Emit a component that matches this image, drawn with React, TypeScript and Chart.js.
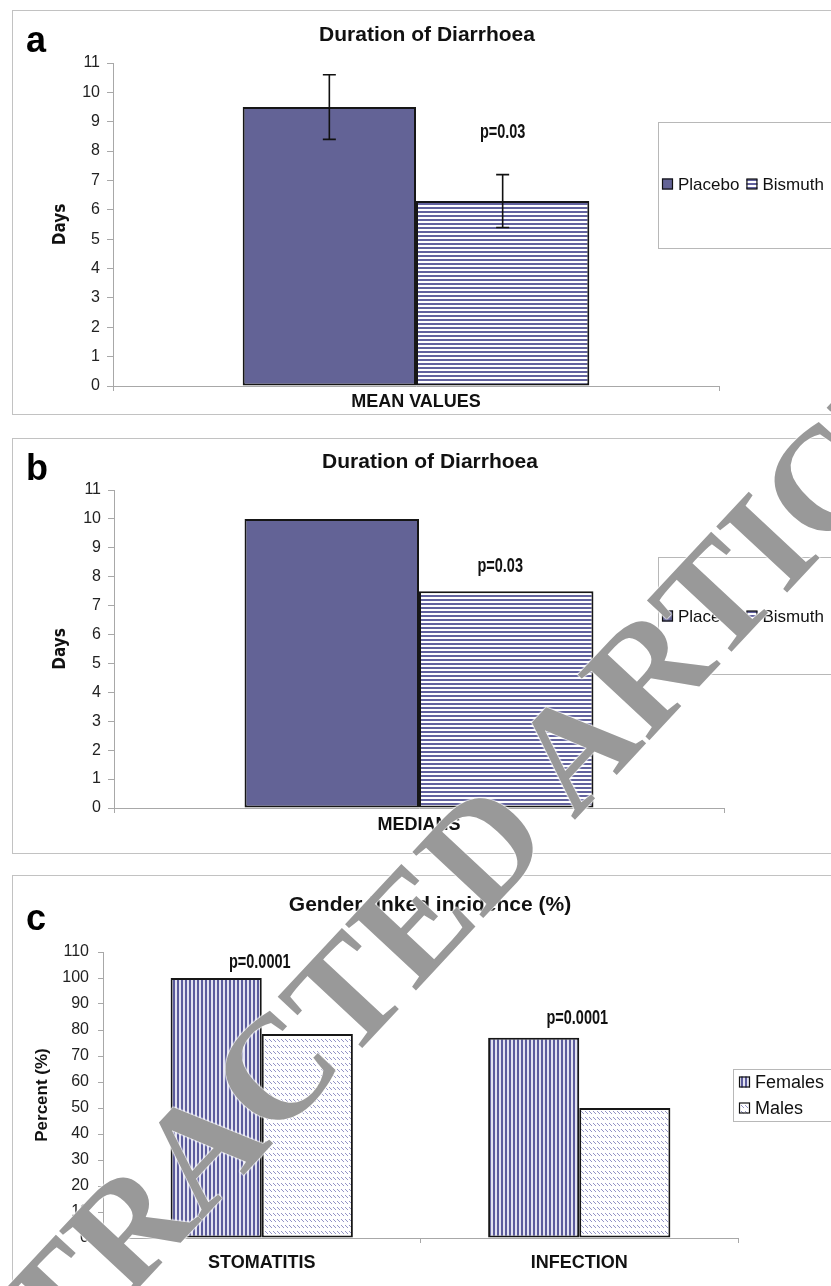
import React, { useEffect, useRef } from 'react';
import { Chart, registerables } from 'chart.js';

Chart.register(...registerables);

const SANS = '"Liberation Sans", Arial, Helvetica, sans-serif';
const NARROW = '"Liberation Sans Narrow", "Arial Narrow", "DejaVu Sans Condensed", sans-serif';
const AXIS = '#a8a8a8';

// ---------------- data ----------------
const treatmentSeries = ['Placebo', 'Bismuth'];

const meanCategories = ['MEAN VALUES'];
const meanPlacebo = [9.5];
const meanBismuth = [6.3];
const meanPlaceboErrLow = [8.4];
const meanPlaceboErrHigh = [10.6];
const meanBismuthErrLow = [5.4];
const meanBismuthErrHigh = [7.2];
const meanPText = ['p=0.03'];
const meanPAt = [8.64];

const medianCategories = ['MEDIANS'];
const medianPlacebo = [10];
const medianBismuth = [7.5];
const medianPText = ['p=0.03'];
const medianPAt = [8.35];

const daysAxisMax = 11;
const daysStep = 1;

const genderSeries = ['Females', 'Males'];
const genderCategories = ['STOMATITIS', 'INFECTION'];
const femalesPercent = [100, 77];
const malesPercent = [78.5, 50];
const genderPText = ['p=0.0001', 'p=0.0001'];
const genderPAt = [106, 84.6];

const percentAxisMax = 110;
const percentStep = 10;

const durationTitle = 'Duration of Diarrhoea';
const genderTitle = 'Gender-linked incidence (%)';
const watermarkText = 'RETRACTED ARTICLE';

// ---------------- patterns ----------------
function makePattern(w: number, h: number, draw: (g: CanvasRenderingContext2D) => void) {
  const c = document.createElement('canvas');
  c.width = w;
  c.height = h;
  const g = c.getContext('2d')!;
  draw(g);
  return g.createPattern(c, 'repeat')!;
}
const hStripe = () =>
  makePattern(4, 4, (g) => {
    g.fillStyle = '#ffffff';
    g.fillRect(0, 0, 4, 4);
    g.fillStyle = '#62629e';
    g.fillRect(0, 0, 4, 2);
  });
const vStripe = () =>
  makePattern(4, 4, (g) => {
    g.fillStyle = '#e2e2f0';
    g.fillRect(0, 0, 4, 4);
    g.fillStyle = '#5c5c9c';
    g.fillRect(0, 0, 2, 4);
  });
const diagDash = () =>
  makePattern(4, 6, (g) => {
    g.fillStyle = '#ffffff';
    g.fillRect(0, 0, 4, 6);
    g.fillStyle = '#9494c6';
    g.fillRect(0, 1, 1, 1);
    g.fillRect(1, 2, 1, 1);
    g.fillRect(2, 3, 1, 1);
  });

// ---------------- decoration plugin ----------------
type Decor = {
  title: string;
  titleX: number;
  titleY: number;
  pTexts: string[];
  pValues: number[];
  pX: (chart: any, i: number) => number;
  legendBox: [number, number, number, number];
  legendMode: 'row' | 'column';
  legendX: number;
  legendY: number;
  legendRowGap: number;
  legendFont: number;
  errors?: { dataset: number; low: number[]; high: number[] }[];
};

function decorPlugin(d: Decor) {
  return {
    id: 'decor',
    afterDatasetsDraw(chart: any) {
      const ctx: CanvasRenderingContext2D = chart.ctx;
      const y = chart.scales.y;
      (d.errors || []).forEach((e) => {
        const meta = chart.getDatasetMeta(e.dataset);
        meta.data.forEach((bar: any, i: number) => {
          const x = bar.x;
          const y1 = y.getPixelForValue(e.low[i]);
          const y2 = y.getPixelForValue(e.high[i]);
          ctx.save();
          ctx.strokeStyle = '#111';
          ctx.lineWidth = 1.6;
          ctx.beginPath();
          ctx.moveTo(x, y1);
          ctx.lineTo(x, y2);
          ctx.moveTo(x - 6.5, y1);
          ctx.lineTo(x + 6.5, y1);
          ctx.moveTo(x - 6.5, y2);
          ctx.lineTo(x + 6.5, y2);
          ctx.stroke();
          ctx.restore();
        });
      });
    },
    afterDraw(chart: any) {
      const ctx: CanvasRenderingContext2D = chart.ctx;
      const y = chart.scales.y;
      ctx.save();
      // title
      ctx.fillStyle = '#111';
      ctx.font = `bold 21px ${SANS}`;
      ctx.textAlign = 'center';
      ctx.textBaseline = 'middle';
      ctx.fillText(d.title, d.titleX, d.titleY);
      // p values
      d.pTexts.forEach((t, i) => {
        const px = d.pX(chart, i);
        const py = y.getPixelForValue(d.pValues[i]);
        ctx.save();
        ctx.translate(px, py);
        ctx.scale(0.69, 1);
        ctx.font = `bold 21px ${SANS}`;
        ctx.fillStyle = '#111';
        ctx.textAlign = 'center';
        ctx.textBaseline = 'middle';
        ctx.fillText(t, 0, 0);
        ctx.restore();
      });
      // legend box
      const [l, t, r, b] = d.legendBox;
      ctx.strokeStyle = '#b8b8b8';
      ctx.lineWidth = 1;
      ctx.strokeRect(l + 0.5, t + 0.5, r - l, b - t);
      // legend items
      ctx.font = `${d.legendFont}px ${SANS}`;
      ctx.textAlign = 'left';
      ctx.textBaseline = 'middle';
      const sq = 11;
      let cx = d.legendX;
      let cy = d.legendY;
      chart.data.datasets.forEach((ds: any) => {
        ctx.fillStyle = ds.backgroundColor;
        ctx.fillRect(cx, cy - sq / 2, sq, sq);
        ctx.strokeStyle = '#111';
        ctx.lineWidth = 1.2;
        ctx.strokeRect(cx + 0.5, cy - sq / 2 + 0.5, sq - 1, sq - 1);
        ctx.fillStyle = '#111';
        ctx.fillText(ds.label, cx + sq + 5, cy + 1);
        if (d.legendMode === 'row') {
          cx += sq + 5 + ctx.measureText(ds.label).width + 7;
        } else {
          cy += d.legendRowGap;
        }
      });
      ctx.restore();
    },
  };
}

// ---------------- configs ----------------
function xScale(fitHeight: number, padding: number) {
  return {
    type: 'category',
    grid: { display: true, drawOnChartArea: false, drawTicks: true, tickLength: 5, color: AXIS, offset: true },
    border: { display: true, color: AXIS, width: 1 },
    ticks: { font: { family: SANS, size: 18, weight: 'bold' }, color: '#111', padding },
    afterFit: (s: any) => {
      s.height = fitHeight;
    },
  };
}

function yScale(max: number, step: number, fitWidth: number, tickLen: number, pad: number, title: string, titleFont: any, titlePad: number) {
  return {
    min: 0,
    max,
    ticks: { stepSize: step, font: { family: SANS, size: 16 }, color: '#222', padding: pad },
    grid: { display: true, drawOnChartArea: false, drawTicks: true, tickLength: tickLen, color: AXIS },
    border: { display: true, color: AXIS, width: 1 },
    title: { display: true, text: title, font: titleFont, color: '#111', padding: { top: titlePad, bottom: 0 } },
    afterFit: (s: any) => {
      s.width = fitWidth;
    },
  };
}

function durationConfig(kind: 'mean' | 'median'): any {
  const isMean = kind === 'mean';
  const placebo = isMean ? meanPlacebo : medianPlacebo;
  const bismuth = isMean ? meanBismuth : medianBismuth;
  const bar = { borderColor: '#161616', borderWidth: 2, borderSkipped: false, categoryPercentage: 0.572, barPercentage: 1 };
  return {
    type: 'bar',
    data: {
      labels: isMean ? meanCategories : medianCategories,
      datasets: [
        { label: treatmentSeries[0], data: placebo, backgroundColor: '#636396', ...bar },
        { label: treatmentSeries[1], data: bismuth, backgroundColor: hStripe(), ...bar },
      ],
    },
    options: {
      responsive: false,
      animation: false,
      events: [],
      layout: { padding: isMean ? { top: 52, right: 123, left: 0, bottom: 0 } : { top: 51, right: 118, left: 0, bottom: 0 } },
      plugins: { legend: { display: false }, tooltip: { enabled: false }, title: { display: false } },
      scales: {
        x: xScale(isMean ? 28 : 45, isMean ? 0 : 1),
        y: yScale(daysAxisMax, daysStep, isMean ? 100 : 101, 6, 7, 'Days', { family: NARROW, size: 17, weight: 'bold' }, 37),
      },
    },
    plugins: [
      decorPlugin({
        title: durationTitle,
        titleX: isMean ? 414 : 417,
        titleY: isMean ? 24 : 23,
        pTexts: isMean ? meanPText : medianPText,
        pValues: isMean ? meanPAt : medianPAt,
        pX: (chart, i) => chart.getDatasetMeta(1).data[i].x - (isMean ? 0 : 6),
        legendBox: isMean ? [645, 111, 840, 237] : [645, 118, 840, 235],
        legendMode: 'row',
        legendX: 649,
        legendY: isMean ? 173 : 177,
        legendRowGap: 0,
        legendFont: 17,
        errors: isMean
          ? [
              { dataset: 0, low: meanPlaceboErrLow, high: meanPlaceboErrHigh },
              { dataset: 1, low: meanBismuthErrLow, high: meanBismuthErrHigh },
            ]
          : [],
      }),
    ],
  };
}

function genderConfig(): any {
  const bar = { borderColor: '#161616', borderWidth: 2, borderSkipped: false, categoryPercentage: 0.574, barPercentage: 1 };
  return {
    type: 'bar',
    data: {
      labels: genderCategories,
      datasets: [
        { label: genderSeries[0], data: femalesPercent, backgroundColor: vStripe(), ...bar },
        { label: genderSeries[1], data: malesPercent, backgroundColor: diagDash(), ...bar },
      ],
    },
    options: {
      responsive: false,
      animation: false,
      events: [],
      layout: { padding: { top: 76, right: 104, left: 0, bottom: 0 } },
      plugins: { legend: { display: false }, tooltip: { enabled: false }, title: { display: false } },
      scales: {
        x: xScale(58, 9),
        y: yScale(percentAxisMax, percentStep, 90, 5, 9, 'Percent (%)', { family: SANS, size: 17, weight: 'bold' }, 19),
      },
    },
    plugins: [
      decorPlugin({
        title: genderTitle,
        titleX: 417,
        titleY: 29,
        pTexts: genderPText,
        pValues: genderPAt,
        pX: (chart, i) => (chart.getDatasetMeta(0).data[i].x + chart.getDatasetMeta(1).data[i].x) / 2 - 2,
        legendBox: [720, 193, 840, 245],
        legendMode: 'column',
        legendX: 726,
        legendY: 206,
        legendRowGap: 26,
        legendFont: 18,
      }),
    ],
  };
}

// ---------------- components ----------------
function ChartCanvas({ width, height, make }: { width: number; height: number; make: () => any }) {
  const ref = useRef<HTMLCanvasElement>(null);
  useEffect(() => {
    const chart = new Chart(ref.current!, make());
    return () => chart.destroy();
  }, []);
  return <canvas ref={ref} width={width} height={height} style={{ display: 'block', width, height }} />;
}

function Panel({ top, height, letter, letterTop, children }: any) {
  return (
    <>
      <div
        style={{
          position: 'absolute',
          left: 12,
          top,
          width: 831,
          height,
          boxSizing: 'border-box',
          border: '1px solid #c2c2c2',
          background: '#fff',
        }}
      >
        {children}
      </div>
      <span
        style={{
          position: 'absolute',
          left: 26,
          top: letterTop,
          font: `bold 36px ${SANS}`,
          lineHeight: 1,
          color: '#000',
        }}
      >
        {letter}
      </span>
    </>
  );
}

export default function App() {
  return (
    <div style={{ position: 'absolute', left: 0, top: 0, width: 831, height: 1286, overflow: 'hidden', background: '#fff' }}>
      <Panel top={10} height={405} letter="a" letterTop={22}>
        <ChartCanvas width={829} height={403} make={() => durationConfig('mean')} />
      </Panel>
      <Panel top={438} height={416} letter="b" letterTop={450}>
        <ChartCanvas width={829} height={414} make={() => durationConfig('median')} />
      </Panel>
      <Panel top={875} height={422} letter="c" letterTop={900}>
        <ChartCanvas width={829} height={420} make={genderConfig} />
      </Panel>
      <span
        style={{
          position: 'absolute',
          left: -170,
          top: 1437,
          transformOrigin: '0 0',
          transform: 'rotate(-47deg)',
          font: `bold 148px "Liberation Serif", "Times New Roman", serif`,
          lineHeight: 1,
          whiteSpace: 'nowrap',
          color: '#999999',
          textShadow: '0 0 2px #fff, 0 0 2px #fff, 0 0 2px #fff',
          pointerEvents: 'none',
        }}
      >
        {watermarkText}
      </span>
    </div>
  );
}
